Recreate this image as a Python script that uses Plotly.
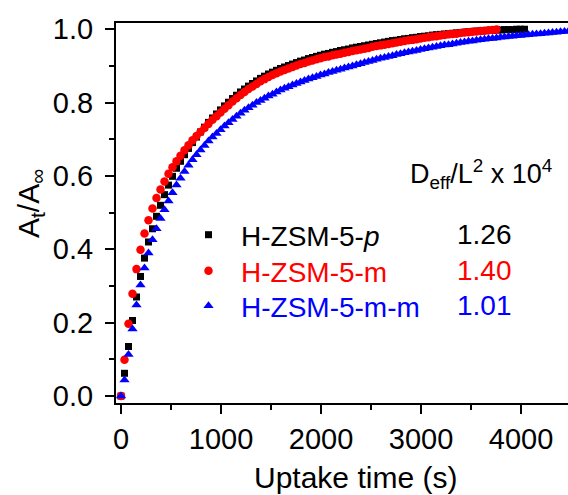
import plotly.graph_objects as go

# ---------------- data ----------------
TIME_S = [0, 35, 75, 115, 155, 195, 235, 275, 315, 355, 395, 435, 475, 515, 555,
          595, 635, 675, 715, 755, 795, 835, 875, 915, 955, 995, 1035, 1075, 1115,
          1155, 1195, 1235, 1275, 1315, 1355, 1395, 1435, 1475, 1515, 1555, 1595,
          1635, 1675, 1715, 1755, 1795, 1835, 1875, 1915, 1955, 1995, 2035, 2075,
          2115, 2155, 2195, 2235, 2275, 2315, 2355, 2395, 2435, 2475, 2515, 2555,
          2595, 2635, 2675, 2715, 2755, 2795, 2835, 2875, 2915, 2955, 2995, 3035,
          3075, 3115, 3155, 3195, 3235, 3275, 3315, 3355, 3395, 3435, 3475, 3515,
          3555, 3595, 3635, 3675, 3715, 3755, 3795, 3835, 3875, 3915, 3955, 3995,
          4035, 4075, 4115, 4155, 4195, 4235, 4275, 4315, 4355, 4395, 4435, 4475]

H_ZSM5_P = [0.000, 0.062, 0.135, 0.206, 0.270, 0.326, 0.376, 0.420, 0.456, 0.490,
            0.520, 0.549, 0.575, 0.599, 0.621, 0.640, 0.658, 0.675, 0.691, 0.706,
            0.720, 0.733, 0.746, 0.758, 0.769, 0.780, 0.791, 0.801, 0.811, 0.820,
            0.829, 0.837, 0.845, 0.852, 0.859, 0.866, 0.872, 0.878, 0.883, 0.888,
            0.893, 0.897, 0.901, 0.905, 0.909, 0.913, 0.916, 0.920, 0.923, 0.926,
            0.929, 0.932, 0.934, 0.937, 0.939, 0.942, 0.944, 0.946, 0.949, 0.951,
            0.953, 0.955, 0.957, 0.959, 0.961, 0.963, 0.965, 0.967, 0.969, 0.970,
            0.972, 0.974, 0.975, 0.977, 0.978, 0.980, 0.981, 0.982, 0.984, 0.985,
            0.986, 0.987, 0.988, 0.989, 0.990, 0.991, 0.992, 0.993, 0.994, 0.995,
            0.995, 0.996, 0.997, 0.997, 0.998, 0.998, 0.999, 0.999, 0.999, 1.000,
            1.000, 1.000]

H_ZSM5_M = [0.000, 0.099, 0.197, 0.279, 0.346, 0.399, 0.443, 0.479, 0.511, 0.540,
            0.563, 0.585, 0.606, 0.624, 0.640, 0.655, 0.670, 0.684, 0.697, 0.709,
            0.720, 0.731, 0.742, 0.753, 0.763, 0.773, 0.783, 0.793, 0.803, 0.812,
            0.821, 0.829, 0.837, 0.844, 0.851, 0.858, 0.864, 0.870, 0.875, 0.880,
            0.885, 0.889, 0.893, 0.897, 0.901, 0.905, 0.908, 0.912, 0.915, 0.918,
            0.921, 0.924, 0.926, 0.929, 0.931, 0.933, 0.936, 0.938, 0.941, 0.943,
            0.945, 0.947, 0.949, 0.952, 0.954, 0.956, 0.958, 0.960, 0.962, 0.964,
            0.966, 0.968, 0.970, 0.971, 0.973, 0.975, 0.977, 0.978, 0.980, 0.981,
            0.983, 0.984, 0.986, 0.987, 0.988, 0.990, 0.991, 0.992, 0.993, 0.994,
            0.995, 0.996, 0.997, 0.998, 0.999]

H_ZSM5_MM = [0.000, 0.044, 0.113, 0.183, 0.248, 0.303, 0.349, 0.390, 0.426, 0.456,
             0.484, 0.508, 0.532, 0.554, 0.575, 0.594, 0.612, 0.629, 0.644, 0.658,
             0.671, 0.683, 0.695, 0.706, 0.716, 0.726, 0.736, 0.745, 0.754, 0.763,
             0.771, 0.779, 0.786, 0.793, 0.800, 0.806, 0.812, 0.818, 0.823, 0.829,
             0.834, 0.839, 0.843, 0.848, 0.852, 0.856, 0.860, 0.864, 0.868, 0.871,
             0.875, 0.878, 0.882, 0.885, 0.888, 0.891, 0.894, 0.897, 0.900, 0.903,
             0.906, 0.909, 0.912, 0.915, 0.918, 0.921, 0.923, 0.926, 0.928, 0.931,
             0.933, 0.936, 0.938, 0.940, 0.942, 0.945, 0.947, 0.949, 0.951, 0.953,
             0.955, 0.957, 0.958, 0.960, 0.962, 0.964, 0.965, 0.967, 0.968, 0.970,
             0.971, 0.973, 0.974, 0.975, 0.976, 0.978, 0.979, 0.980, 0.981, 0.982,
             0.983, 0.984, 0.985, 0.986, 0.987, 0.988, 0.989, 0.990, 0.991, 0.992,
             0.993, 0.994, 0.995]

SERIES_NAMES = ["H-ZSM-5-<i>p</i>", "H-ZSM-5-m", "H-ZSM-5-m-m"]
DEFF_VALUES = ["1.26", "1.40", "1.01"]
X_TICKS = [0, 1000, 2000, 3000, 4000]
Y_TICKS = [0.0, 0.2, 0.4, 0.6, 0.8, 1.0]

# ---------------- styles ----------------
COLORS = ["#000000", "#ff0000", "#0000ff"]
SYMBOLS = ["square", "circle", "triangle-up"]
SIZES = [7, 8.5, 9]
FONT = "Liberation Sans, Arial, sans-serif"

W, H = 568, 495
ML, MR, MT, MB = 116, 0, 23, 92
PW, PH = W - ML - MR, H - MT - MB

def px_x(p):
    return (p - ML) / PW

def px_y(p):
    return (H - MB - p) / PH

fig = go.Figure()
series = [H_ZSM5_P, H_ZSM5_M, H_ZSM5_MM]
legend_ids = ["legend", "legend2", "legend3"]
for i, vals in enumerate(series):
    fig.add_trace(go.Scatter(
        x=TIME_S[:len(vals)], y=vals, mode="markers", name=SERIES_NAMES[i],
        marker=dict(symbol=SYMBOLS[i], size=SIZES[i], color=COLORS[i], line=dict(width=0)),
        legend=legend_ids[i], cliponaxis=True,
    ))

row_y = [235, 271, 306]
leg_common = dict(xanchor="left", yanchor="middle", bgcolor="rgba(0,0,0,0)",
                  borderwidth=0, itemsizing="trace", itemwidth=55)
layout_legends = {}
for i, lid in enumerate(legend_ids):
    layout_legends[lid] = dict(x=px_x(176), y=px_y(row_y[i]),
                               font=dict(family=FONT, size=28, color=COLORS[i]),
                               **leg_common)

annotations = []
for i, v in enumerate(DEFF_VALUES):
    annotations.append(dict(xref="paper", yref="paper", x=px_x(455), y=px_y(row_y[i] - 1),
                            xanchor="left", yanchor="middle", text=v, showarrow=False,
                            font=dict(family=FONT, size=28, color=COLORS[i])))
annotations.append(dict(xref="paper", yref="paper", x=px_x(408), y=px_y(174),
                        xanchor="left", yanchor="middle", showarrow=False,
                        text="D<sub>eff</sub>/L<sup>2</sup> x 10<sup>4</sup>",
                        font=dict(family=FONT, size=27, color="black")))
annotations.append(dict(xref="paper", yref="paper", x=px_x(355), y=px_y(477),
                        xanchor="center", yanchor="middle", showarrow=False,
                        text="Uptake time (s)",
                        font=dict(family=FONT, size=30, color="black")))
annotations.append(dict(xref="paper", yref="paper", x=px_x(30), y=px_y(204),
                        xanchor="center", yanchor="middle", showarrow=False, textangle=-90,
                        text="A<sub>t</sub>/A<sub>∞</sub>",
                        font=dict(family=FONT, size=30, color="black")))

fig.update_layout(
    width=W, height=H, margin=dict(l=ML, r=MR, t=MT, b=MB, autoexpand=False),
    paper_bgcolor="white", plot_bgcolor="white",
    font=dict(family=FONT, size=28, color="black"),
    annotations=annotations,
    showlegend=True,
    **layout_legends,
)
fig.update_xaxes(
    range=[-50, 4470], tickvals=X_TICKS, ticks="outside", ticklen=9, tickwidth=2,
    tickcolor="black", showline=True, linecolor="black", linewidth=2, mirror=True,
    showgrid=False, zeroline=False, tickfont=dict(family=FONT, size=29),
    minor=dict(dtick=500, tick0=0, ticks="outside", ticklen=5, tickwidth=2, tickcolor="black"),
)
fig.update_yaxes(
    range=[-0.019, 1.017], tickvals=Y_TICKS, tickformat=".1f", ticks="outside", ticklen=9,
    tickwidth=2, tickcolor="black", showline=True, linecolor="black", linewidth=2,
    mirror=False, showgrid=False, zeroline=False, tickfont=dict(family=FONT, size=29),
    ticklabelstandoff=6,
    minor=dict(dtick=0.1, tick0=0, ticks="outside", ticklen=5, tickwidth=2, tickcolor="black"),
)

fig.write_html("out.html")
